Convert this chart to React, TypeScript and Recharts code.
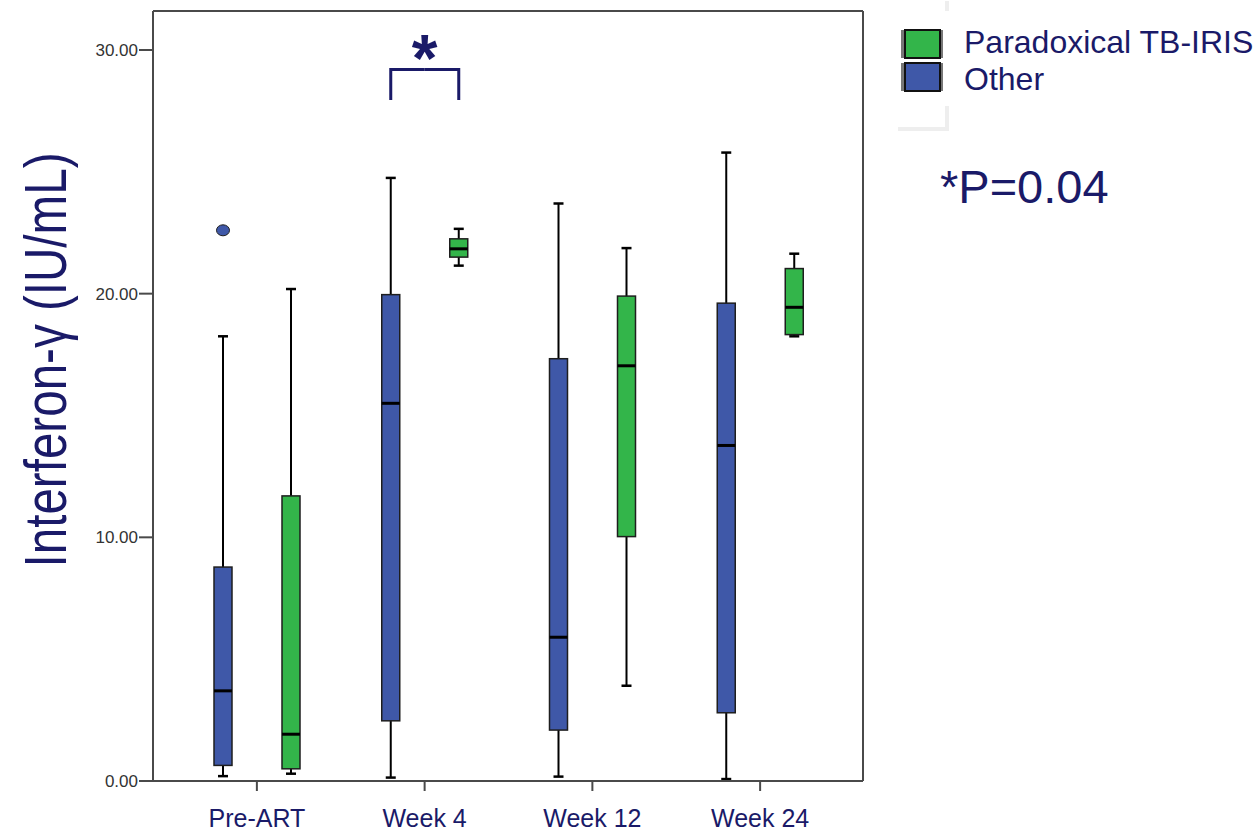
import React from 'react';
import {
  ComposedChart,
  Bar,
  Line,
  XAxis,
  YAxis,
  Legend,
  ReferenceDot,
} from 'recharts';

const categories = ['Pre-ART', 'Week 4', 'Week 12', 'Week 24'];

// "Other" group (blue)
const otherMin = [0.2, 0.14, 0.18, 0.08];
const otherQ1 = [0.64, 2.47, 2.09, 2.8];
const otherMedian = [3.7, 15.5, 5.9, 13.77];
const otherQ3 = [8.78, 19.96, 17.33, 19.61];
const otherMax = [18.25, 24.75, 23.7, 25.79];
const otherOutliers = [[22.6], [], [], []];

// "Paradoxical TB-IRIS" group (green)
const irisMin = [0.3, 21.15, 3.91, 18.25];
const irisQ1 = [0.5, 21.5, 10.03, 18.32];
const irisMedian = [1.92, 21.84, 17.04, 19.44];
const irisQ3 = [11.7, 22.25, 19.9, 21.03];
const irisMax = [20.19, 22.66, 21.87, 21.64];
const irisOutliers = [[], [], [], []];

const yTicks = [0, 10, 20, 30];
const yMax = 31.6;

// significance bracket (Week 4)
const bracketCategory = 'Week 4';
const bracketTop = 29.2;
const bracketBottom = 27.95;
const starValue = 30.1;
const pValueText = '*P=0.04';

const BLUE = '#3f58a8';
const GREEN = '#33b54a';
const NAVY = '#1a1a68';
const AXIS = '#4a4a4a';
const FONT = '"Liberation Sans", Arial, sans-serif';
const BAR_SIZE = 18;
const BAR_GAP = 50;

const data = categories.map((name, i) => ({
  name,
  otherRange: [Math.min(otherMin[i], ...otherOutliers[i]), Math.max(otherMax[i], ...otherOutliers[i])],
  irisRange: [Math.min(irisMin[i], ...irisOutliers[i]), Math.max(irisMax[i], ...irisOutliers[i])],
  other: { min: otherMin[i], q1: otherQ1[i], median: otherMedian[i], q3: otherQ3[i], max: otherMax[i], outliers: otherOutliers[i] },
  iris: { min: irisMin[i], q1: irisQ1[i], median: irisMedian[i], q3: irisQ3[i], max: irisMax[i], outliers: irisOutliers[i] },
}));

// draws a box plot inside the range bar, values mapped linearly from the bar's own extent
const makeBoxShape = (key: 'other' | 'iris', fill: string, side: 1 | -1) => (props: any) => {
  const { x, y, width, height, payload } = props;
  const s = payload[key];
  const range = payload[key + 'Range'];
  const lo = range[0];
  const hi = range[1];
  const toY = (v: number) => y + ((hi - v) / (hi - lo)) * height;
  const cx = x + width / 2;
  const cap = 5;
  const midX = cx + side * (width + BAR_GAP) / 2;
  return (
    <g>
      <line x1={cx} x2={cx} y1={toY(s.max)} y2={toY(s.min)} stroke="#000" strokeWidth={2} />
      <line x1={cx - cap} x2={cx + cap} y1={toY(s.max)} y2={toY(s.max)} stroke="#000" strokeWidth={2.5} />
      <line x1={cx - cap} x2={cx + cap} y1={toY(s.min)} y2={toY(s.min)} stroke="#000" strokeWidth={2.5} />
      <rect
        x={x}
        y={toY(s.q3)}
        width={width}
        height={Math.max(toY(s.q1) - toY(s.q3), 1)}
        fill={fill}
        stroke="#1e1e1e"
        strokeWidth={1.5}
      />
      <line x1={x} x2={x + width} y1={toY(s.median)} y2={toY(s.median)} stroke="#000" strokeWidth={3} />
      {s.outliers.map((v: number, k: number) => (
        <ellipse key={k} cx={cx} cy={toY(v)} rx={6.5} ry={5.5} fill={fill} stroke="#1e1e1e" strokeWidth={1} />
      ))}
      {payload.name === bracketCategory && (
        <path
          d={`M${cx},${toY(bracketBottom)} L${cx},${toY(bracketTop)} L${midX},${toY(bracketTop)}`}
          fill="none"
          stroke={NAVY}
          strokeWidth={3}
        />
      )}
    </g>
  );
};

const legendItems = [
  { label: 'Paradoxical TB-IRIS', color: GREEN },
  { label: 'Other', color: BLUE },
];

const LegendBox = () => (
  <svg width={363} height={220} style={{ display: 'block' }}>
    <path d="M52,0 L52,10 M52,105 L52,128 L3,128" stroke="#eeeeee" strokeWidth={4} fill="none" />
    {legendItems.map((item, i) => (
      <g key={item.label}>
        <rect x={6} y={29 + i * 33} width={42} height={28} fill="#777" />
        <rect x={10} y={29 + i * 33} width={35} height={28} fill={item.color} stroke="#111" strokeWidth={2} />
        <text x={69} y={52 + i * 37} fontSize={32} fill={NAVY} fontFamily={FONT}>
          {item.label}
        </text>
      </g>
    ))}
    <text x={45} y={202} fontSize={47} fill={NAVY} fontFamily={FONT}>
      {pValueText}
    </text>
  </svg>
);

const StarLabel = (props: any) => {
  const { viewBox } = props;
  return (
    <text
      x={viewBox.x + viewBox.width / 2}
      y={viewBox.y + viewBox.height / 2 + 33}
      textAnchor="middle"
      fontSize={66}
      fontWeight="bold"
      fill={NAVY}
      fontFamily={FONT}
    >
      *
    </text>
  );
};

const YLabel = () => (
  <text
    x={66}
    y={360}
    transform="rotate(-90, 66, 360)"
    textAnchor="middle"
    fontSize={60}
    fill={NAVY}
    fontFamily={FONT}
    textLength={415}
    lengthAdjust="spacingAndGlyphs"
  >
    Interferon-γ (IU/mL)
  </text>
);

export default function App() {
  return (
    <div style={{ position: 'absolute', left: 0, top: 0, width: 1258, height: 832, background: '#fff' }}>
      <ComposedChart
        width={1258}
        height={832}
        data={data}
        barGap={BAR_GAP}
        margin={{ top: 10, right: 394, bottom: 0, left: 0 }}
      >
        <XAxis
          dataKey="name"
          height={51}
          padding={{ left: 20, right: 19 }}
          axisLine={{ stroke: AXIS, strokeWidth: 2 }}
          tickLine={{ stroke: AXIS, strokeWidth: 2 }}
          tickSize={10}
          tickMargin={18}
          tick={{ fontSize: 25, fill: NAVY, fontFamily: FONT }}
        />
        <XAxis
          xAxisId="top"
          dataKey="name"
          orientation="top"
          height={1}
          tick={false}
          tickLine={false}
          axisLine={{ stroke: AXIS, strokeWidth: 2 }}
        />
        <YAxis
          type="number"
          domain={[0, yMax]}
          ticks={yTicks}
          allowDataOverflow
          width={153}
          tickFormatter={(v: number) => v.toFixed(2)}
          axisLine={{ stroke: AXIS, strokeWidth: 2 }}
          tickLine={{ stroke: AXIS, strokeWidth: 2 }}
          tickSize={14}
          tickMargin={1}
          tick={{ fontSize: 17, fill: '#333', fontFamily: FONT }}
          label={<YLabel />}
        />
        <YAxis
          yAxisId="right"
          orientation="right"
          type="number"
          domain={[0, yMax]}
          allowDataOverflow
          width={1}
          tick={false}
          tickLine={false}
          axisLine={{ stroke: AXIS, strokeWidth: 2 }}
        />
        <Bar
          dataKey="otherRange"
          name="Other"
          barSize={BAR_SIZE}
          fill={BLUE}
          shape={makeBoxShape('other', BLUE, 1)}
          isAnimationActive={false}
        />
        <Bar
          dataKey="irisRange"
          name="Paradoxical TB-IRIS"
          barSize={BAR_SIZE}
          fill={GREEN}
          shape={makeBoxShape('iris', GREEN, -1)}
          isAnimationActive={false}
        />
        {/* invisible series so the top and right frame axes get drawn */}
        <Line
          xAxisId="top"
          yAxisId="right"
          dataKey={(d: any) => d.other.median}
          stroke="none"
          dot={false}
          activeDot={false}
          legendType="none"
          isAnimationActive={false}
        />
        <ReferenceDot
          x={bracketCategory}
          y={starValue}
          r={0}
          fill="none"
          stroke="none"
          label={<StarLabel />}
        />
        <Legend
          layout="vertical"
          verticalAlign="middle"
          align="center"
          content={<LegendBox />}
          wrapperStyle={{ position: 'absolute', left: 895, top: 1, width: 363, height: 220 }}
        />
      </ComposedChart>
    </div>
  );
}
